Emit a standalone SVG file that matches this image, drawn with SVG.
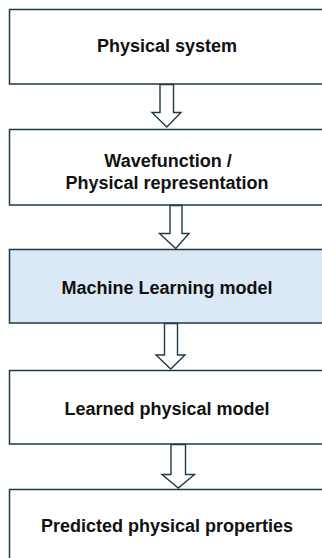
<svg xmlns="http://www.w3.org/2000/svg" width="322" height="558" viewBox="0 0 322 558">
  <style>
    .box { fill: #ffffff; stroke: #1f3a48; stroke-width: 1.5; }
    .box.ml { fill: #dbe8f5; }
    .label { font-family: "Liberation Sans", Arial, sans-serif; font-size: 18px; font-weight: bold; fill: #111111; text-anchor: middle; }
    .arrow { fill: #ffffff; stroke: #1f3a48; stroke-width: 1.4; stroke-linejoin: miter; }
  </style>
  <rect width="322" height="558" fill="#ffffff"/>

  <g id="physical-system">
    <rect class="box" x="9.5" y="9.5" width="320" height="74.5"/>
    <text class="label" x="167" y="52">Physical system</text>
  </g>

  <g id="wavefunction">
    <rect class="box" x="9.5" y="129.5" width="320" height="75.5"/>
    <text class="label" x="168" y="166.5">Wavefunction /</text>
    <text class="label" x="167" y="188.5">Physical representation</text>
  </g>

  <g id="ml-model">
    <rect class="box ml" x="9.5" y="249.5" width="320" height="73.5"/>
    <text class="label" x="167" y="293.5">Machine Learning model</text>
  </g>

  <g id="learned-model">
    <rect class="box" x="9.5" y="370.5" width="320" height="73.5"/>
    <text class="label" x="167" y="415">Learned physical model</text>
  </g>

  <g id="predicted-properties">
    <rect class="box" x="9.5" y="489.5" width="320" height="90"/>
    <text class="label" x="167" y="531.5">Predicted physical properties</text>
  </g>

  <g id="connectors">
    <path class="arrow" d="M160,84.5 L173.5,84.5 L173.5,112.5 L181,112.5 L166.75,127 L152,112.5 L160,112.5 Z"/>
    <path class="arrow" d="M170,205.5 L182,205.5 L182,233.5 L189,233.5 L175.75,248.5 L159.5,233.5 L170,233.5 Z"/>
    <path class="arrow" d="M164.5,323.5 L177.5,323.5 L177.5,355 L185,355 L170.75,369 L156,355 L164.5,355 Z"/>
    <path class="arrow" d="M171,444.5 L185.5,444.5 L185.5,474.5 L194.5,474.5 L178.25,488 L162,474.5 L171,474.5 Z"/>
  </g>
</svg>
